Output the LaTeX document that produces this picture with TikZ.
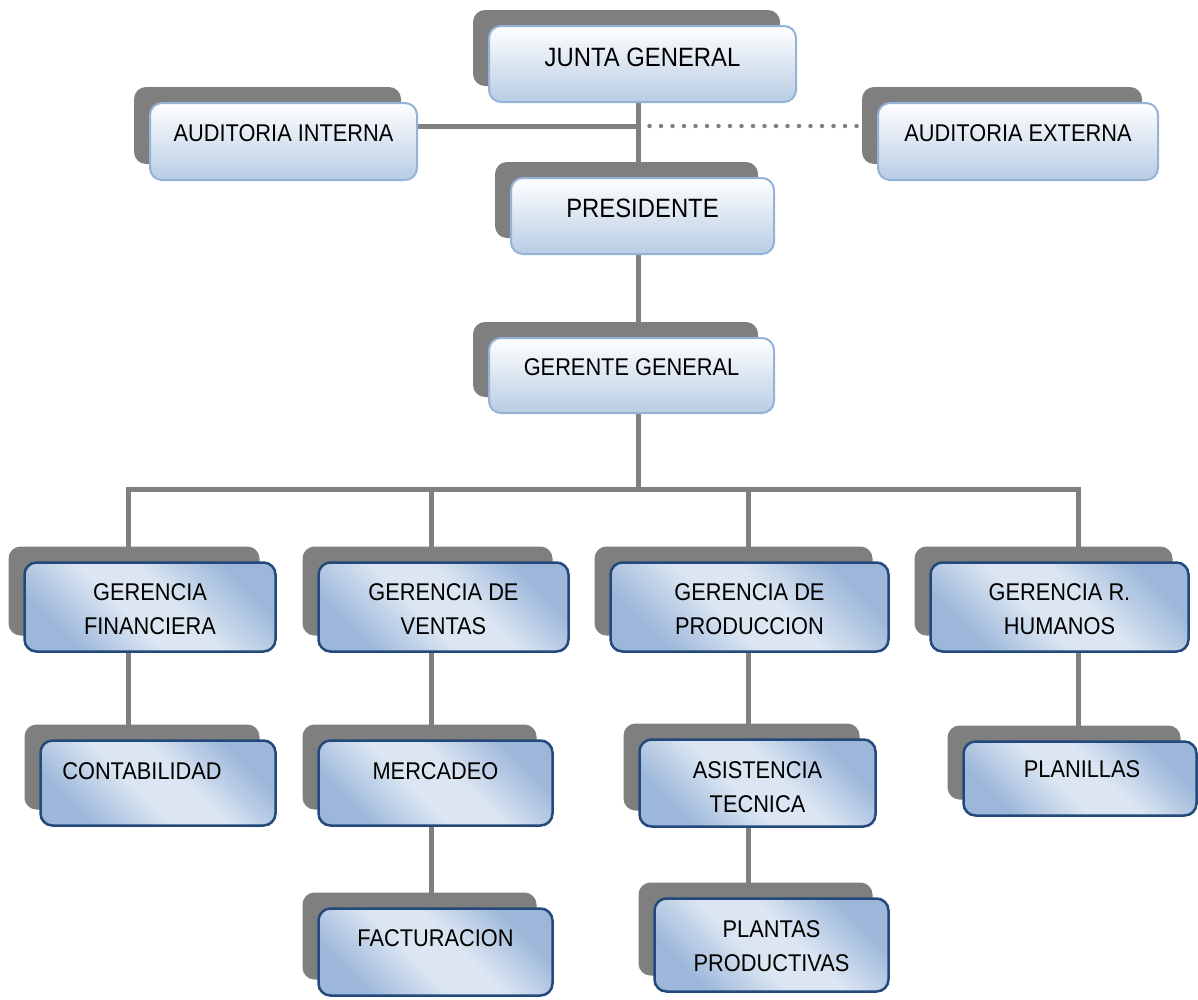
\documentclass[tikz,border=0pt]{standalone}
\usepackage{fontspec}
\setmainfont{Liberation Sans}[FakeStretch=0.9]
\usetikzlibrary{shadows}
\usetikzlibrary{backgrounds}

\definecolor{linkgray}{HTML}{808080}
\definecolor{shadegray}{HTML}{7F7F7F}
\definecolor{topline}{HTML}{95B3D7}
\definecolor{topfill}{HTML}{B8CCE4}
\definecolor{lowline}{HTML}{23497A}
\definecolor{lowdark}{HTML}{9CB7DA}
\definecolor{lowlight}{HTML}{DCE6F2}

\pgfdeclarehorizontalshading{lowshade}{100bp}{color(0bp)=(lowdark); color(26bp)=(lowdark); color(44bp)=(lowlight); color(56bp)=(lowlight); color(74bp)=(lowdark); color(100bp)=(lowdark)}

\tikzset{
  orgbox/.style={rectangle, rounded corners=12, inner sep=0pt,
    general shadow={fill=shadegray, shadow xshift=-16pt, shadow yshift=16pt}},
  topbox/.style={orgbox, draw=topline, line width=2pt, top color=white, bottom color=topfill},
  lowbox/.style={orgbox, draw=lowline, line width=2.5pt, shading=lowshade, shading angle=45},
  txt/.style={align=center, inner sep=0pt, font=\fontsize{24.2}{34}\selectfont},
  bigtxt/.style={txt, font=\fontsize{26.5}{34}\selectfont},
  link/.style={draw=linkgray, line width=5pt},
  dotlink/.style={draw=linkgray, line width=4.5pt, line cap=round, dash pattern=on 0pt off 11.5pt}
}

\begin{document}
\begin{tikzpicture}[x=1pt, y=-1pt]
  \useasboundingbox (0,0) rectangle (1198,999);

  % junta, auditorias, presidente, gerente
  \node[topbox, minimum width=307, minimum height=76] (jg) at (642.5,64) {};
  \node[topbox, minimum width=267, minimum height=77] (ai) at (283.5,141.5) {};
  \node[topbox, minimum width=280, minimum height=77] (ae) at (1018,141.5) {};
  \node[topbox, minimum width=263, minimum height=76] (pr) at (642.5,216) {};
  \node[topbox, minimum width=285, minimum height=75] (gg) at (631.5,375.5) {};

  \node[bigtxt] (jgt) at ([yshift=7]jg.center) {JUNTA GENERAL};
  \node[txt] (ait) at ([yshift=8.5]ai.center) {AUDITORIA INTERNA};
  \node[txt] (aet) at ([yshift=8.5]ae.center) {AUDITORIA EXTERNA};
  \node[bigtxt] (prt) at ([yshift=8]pr.center) {PRESIDENTE};
  \node[txt] (ggt) at ([yshift=8.5]gg.center) {GERENTE GENERAL};

  % gerencias
  \node[lowbox, minimum width=251, minimum height=89] (gf) at (150,607) {};
  \node[lowbox, minimum width=250, minimum height=89] (gv) at (443.5,607) {};
  \node[lowbox, minimum width=278, minimum height=89] (gp) at (749.5,607) {};
  \node[lowbox, minimum width=258, minimum height=89] (gh) at (1059.5,607) {};

  \node[txt] (gft) at ([yshift=-2]gf.center) {GERENCIA\\FINANCIERA};
  \node[txt] (gvt) at ([yshift=-2]gv.center) {GERENCIA DE\\VENTAS};
  \node[txt] (gpt) at ([yshift=-2]gp.center) {GERENCIA DE\\PRODUCCION};
  \node[txt] (ght) at ([yshift=-2]gh.center) {GERENCIA R.\\HUMANOS};

  % departamentos
  \node[lowbox, minimum width=235, minimum height=85] (co) at (158,783) {};
  \node[lowbox, minimum width=234, minimum height=85] (me) at (435.5,783) {};
  \node[lowbox, minimum width=236, minimum height=87] (at) at (757.5,783) {};
  \node[lowbox, minimum width=234, minimum height=93] (pp) at (771.5,945) {};
  \node[lowbox, minimum width=234, minimum height=87] (fa) at (435.5,952) {};
  \node[lowbox, minimum width=233, minimum height=74] (pl) at (1080,778.5) {};

  \node[txt] (cot) at ([xshift=-16,yshift=12]co.center) {CONTABILIDAD};
  \node[txt] (met) at ([yshift=12]me.center) {MERCADEO};
  \node[txt] (att) at ([yshift=-4]at.center) {ASISTENCIA\\TECNICA};
  \node[txt] (ppt) at ([yshift=-1]pp.center) {PLANTAS\\PRODUCTIVAS};
  \node[txt] (fat) at ([yshift=14]fa.center) {FACTURACION};
  \node[txt] (plt) at ([xshift=2,yshift=9.5]pl.center) {PLANILLAS};

  % lineas
  \coordinate (hub) at (638,126);
  \coordinate (bus) at (638,489);
  \coordinate (c1) at (128,489);
  \coordinate (c2) at (431,489);
  \coordinate (c3) at (748,489);
  \coordinate (c4) at (1078,489);
  \begin{scope}[on background layer]
    \draw[link] (jg.south -| hub) -- (bus);
    \draw[link] (ai.east |- hub) -- (hub);
    \draw[dotlink] (hub) -- (ae.west |- hub);
    \draw[link, line cap=rect] (c1) -- (c4);
    \draw[link] (c1) -- (c1 |- co.north);
    \draw[link] (c2) -- (c2 |- fa.north);
    \draw[link] (c3) -- (c3 |- pp.north);
    \draw[link] (c4) -- (c4 |- pl.north);
  \end{scope}

\end{tikzpicture}
\end{document}
